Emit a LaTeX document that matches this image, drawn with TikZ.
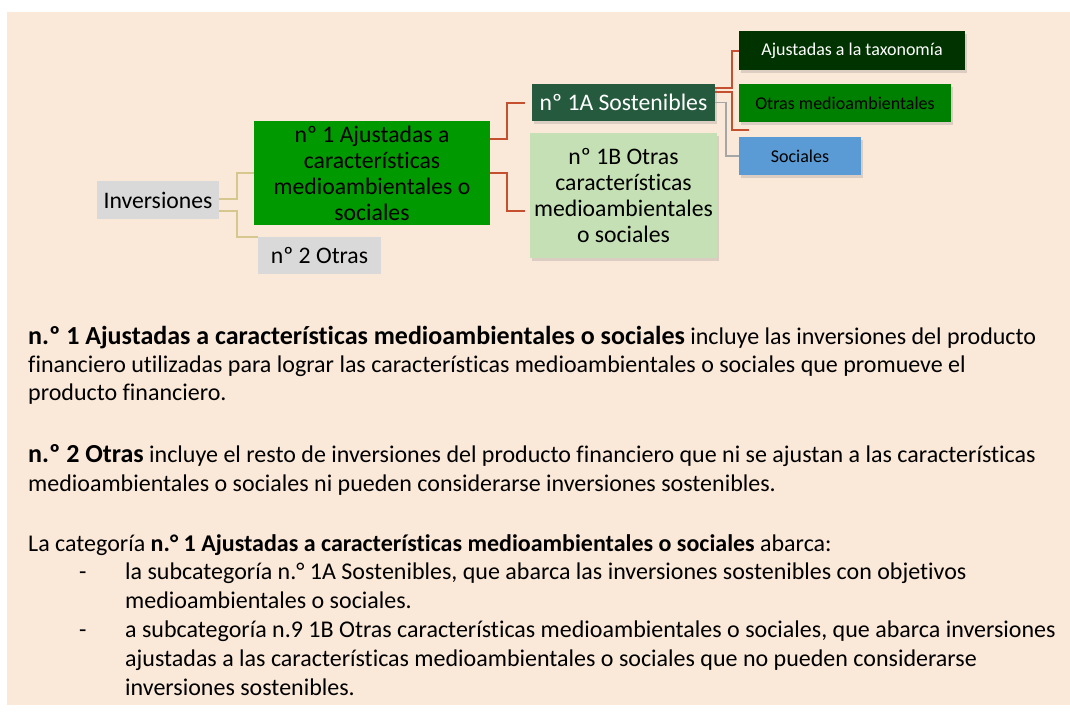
\documentclass[tikz,border=0pt]{standalone}
\usepackage{fontspec}
\setmainfont{Carlito}[Ligatures={NoCommon}]
\usetikzlibrary{shadows}

\definecolor{fondo}{HTML}{FAE8D8}
\definecolor{cajagris}{HTML}{D9D9D9}
\definecolor{verde}{HTML}{009900}
\definecolor{verdeosc}{HTML}{265A3E}
\definecolor{verdeclaro}{HTML}{C5E0B4}
\definecolor{verdenoche}{HTML}{003300}
\definecolor{verdemedio}{HTML}{008000}
\definecolor{azul}{HTML}{5B9BD5}
\definecolor{lineatan}{HTML}{D6C78E}
\definecolor{linearoja}{HTML}{C5502F}
\definecolor{lineagris}{HTML}{A6A6A6}

\newcommand{\titulo}[1]{{\fontsize{26}{28}\selectfont\bfseries #1}}

\tikzset{
  caja/.style={inner sep=0pt, align=center, font=\fontsize{23.7}{26}\selectfont},
  cajachica/.style={caja, font=\fontsize{18}{20}\selectfont},
  sombra/.style={drop shadow={opacity=0.25, shadow xshift=2pt, shadow yshift=-3pt}},
  texto/.style={inner sep=0pt, anchor=north west, align=left, font=\fontsize{24}{28.9}\selectfont},
  tan/.style={draw=lineatan, line width=2pt},
  roja/.style={draw=linearoja, line width=2pt},
  gris/.style={draw=lineagris, line width=1.5pt}
}

\begin{document}
\begin{tikzpicture}[x=1pt,y=-1pt]
  % fondo
  \useasboundingbox (0,0) rectangle (1070,712);
  \fill[fondo] (7,12) rectangle (1070,705);

  % esquema
  \node[caja, fill=cajagris, minimum width=122pt, minimum height=38pt] (inv) at (158,200) {Inversiones};
  \node[caja, fill=verde, minimum width=236pt, minimum height=104pt] (n1) at (372,173)
    {nº 1 Ajustadas a\\características\\medioambientales o\\sociales};
  \node[caja, fill=cajagris, minimum width=123pt, minimum height=37pt] (n2) at (319.5,255.5) {nº 2 Otras};
  \node[caja, sombra, fill=verdeosc, text=white, minimum width=183pt, minimum height=37pt] (s1a) at (623.5,102.5)
    {nº 1A Sostenibles};
  \node[caja, sombra, fill=verdeclaro, minimum width=187pt, minimum height=125pt] (s1b) at (623.5,195.5)
    {nº 1B Otras\\características\\medioambientales\\o sociales};
  \node[cajachica, sombra, fill=verdenoche, text=white, minimum width=226pt, minimum height=39pt] (tax) at (852,50.5)
    {Ajustadas a la taxonomía};
  \node[cajachica, sombra, fill=verdemedio, minimum width=212pt, minimum height=38pt] (otras) at (845,103)
    {Otras medioambientales};
  \node[cajachica, sombra, fill=azul, minimum width=122pt, minimum height=38pt] (soc) at (800,156) {Sociales};
  \coordinate (otrasfin) at ([xshift=10pt,yshift=-27pt]otras.west);

  % conectores
  \draw[tan] ([yshift=1pt]inv.east) -- ++(18,0) |- (n1.west);
  \draw[tan] ([yshift=-11pt]inv.east) -- ++(18,0) |- (n2.north west);
  \draw[roja] ([yshift=34pt]n1.east) -- ++(17,0) |- ([xshift=-7pt]s1a.west);
  \draw[roja] (n1.east) -- ++(17,0) |- ([xshift=-5pt,yshift=-15.5pt]s1b.west);
  \draw[roja] ([yshift=14.5pt]s1a.east) -- ++(17,0) |- (tax.west);
  \draw[roja] ([yshift=10.5pt]s1a.east) -- ++(17,0) |- (otrasfin);
  \draw[gris] (s1a.east) -- ++(11,0) |- (soc.west);

  % textos
  \node[texto, font=\fontsize{24}{28}\selectfont] (p1) at (28,326)
    {\titulo{n.º 1 Ajustadas a características medioambientales o sociales} incluye las inversiones del producto\\
     financiero utilizadas para lograr las características medioambientales o sociales que promueve el\\
     producto financiero.};
  \node[texto] (p2) at (28,444)
    {\titulo{n.º 2 Otras} incluye el resto de inversiones del producto financiero que ni se ajustan a las características\\
     medioambientales o sociales ni pueden considerarse inversiones sostenibles.};
  \node[texto] (p3) at (28,534)
    {La categoría \textbf{n.° 1 Ajustadas a características medioambientales o sociales} abarca:\\
     \hspace*{51pt}\makebox[46pt][l]{-}la subcategoría n.° 1A Sostenibles, que abarca las inversiones sostenibles con objetivos\\
     \hspace*{97pt}medioambientales o sociales.\\
     \hspace*{51pt}\makebox[46pt][l]{-}a subcategoría n.9 1B Otras características medioambientales o sociales, que abarca inversiones\\
     \hspace*{97pt}ajustadas a las características medioambientales o sociales que no pueden considerarse\\
     \hspace*{97pt}inversiones sostenibles.};
\end{tikzpicture}
\end{document}
